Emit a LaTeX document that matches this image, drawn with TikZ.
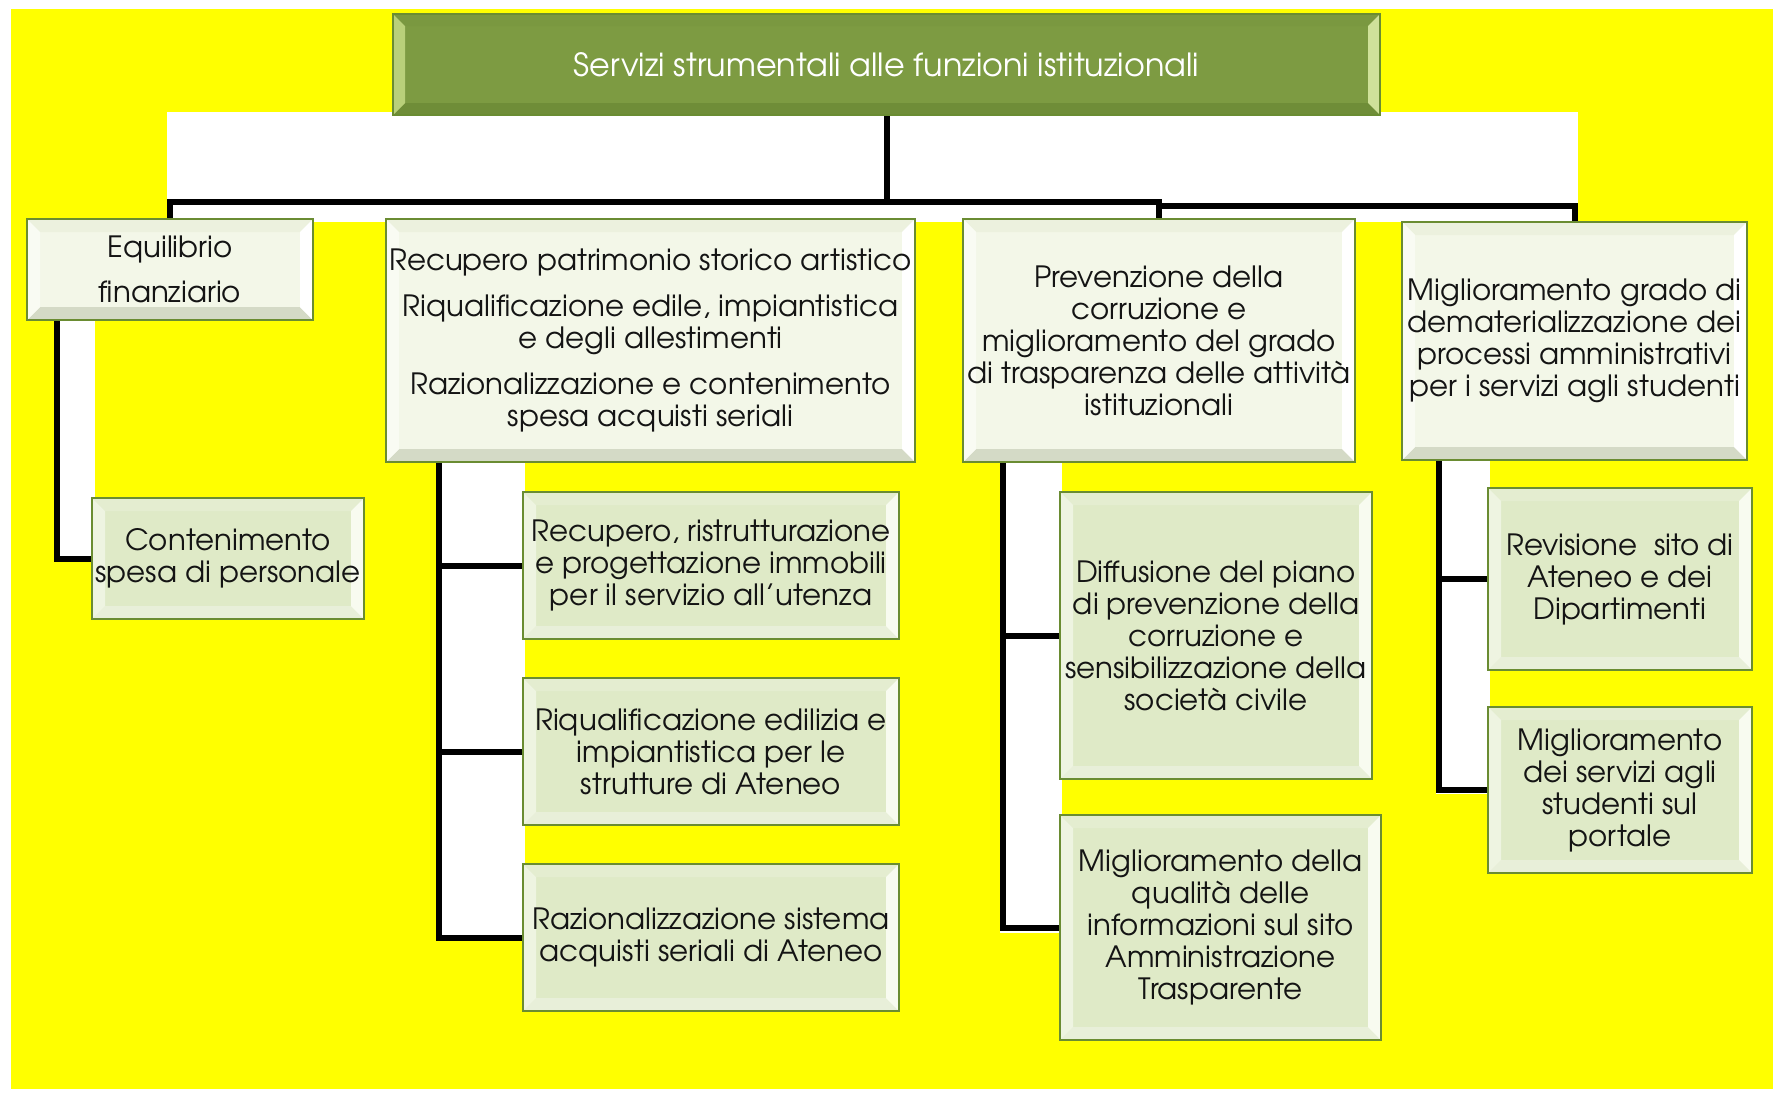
\documentclass[tikz,border=0pt]{standalone}
\usepackage{fontspec}
\setmainfont{TeX Gyre Adventor}
\usepackage{graphicx}
\pgfdeclarelayer{bg}
\pgfdeclarelayer{conn}
\pgfsetlayers{bg,conn,main}
\definecolor{yel}{HTML}{FFFF00}
\definecolor{olive}{HTML}{6A8C32}
\definecolor{txt}{HTML}{141414}
\definecolor{fA}{HTML}{F3F7E8}
\definecolor{tA}{HTML}{ECF1DE}
\definecolor{lA}{HTML}{F9FBF3}
\definecolor{rA}{HTML}{FFFFFF}
\definecolor{bA}{HTML}{D4DAC6}
\definecolor{fB}{HTML}{DFEAC7}
\definecolor{tB}{HTML}{E4EDD0}
\definecolor{lB}{HTML}{EEF4E1}
\definecolor{rB}{HTML}{F8FBF0}
\definecolor{bB}{HTML}{E8EFD9}
\definecolor{fR}{HTML}{7D9B42}
\definecolor{tR}{HTML}{7A9840}
\definecolor{lR}{HTML}{B9D07A}
\definecolor{rR}{HTML}{CFE19A}
\definecolor{bR}{HTML}{6F8D38}
\tikzset{
  bevel/.style n args={6}{fill=#1, path picture={
    \coordinate (bnw) at (path picture bounding box.north west);
    \coordinate (bne) at (path picture bounding box.north east);
    \coordinate (bsw) at (path picture bounding box.south west);
    \coordinate (bse) at (path picture bounding box.south east);
    \coordinate (inw) at ([xshift=#6,yshift=-#6]path picture bounding box.north west);
    \coordinate (ine) at ([xshift=-#6,yshift=-#6]path picture bounding box.north east);
    \coordinate (isw) at ([xshift=#6,yshift=#6]path picture bounding box.south west);
    \coordinate (ise) at ([xshift=-#6,yshift=#6]path picture bounding box.south east);
    \fill[#2] (bnw) -- (bne) -- (ine) -- (inw) -- cycle;
    \fill[#5] (bsw) -- (bse) -- (ise) -- (isw) -- cycle;
    \fill[#3] (bnw) -- (inw) -- (isw) -- (bsw) -- cycle;
    \fill[#4] (bne) -- (ine) -- (ise) -- (bse) -- cycle;
  }},
  boxbase/.style={draw=olive, line width=1.6pt, rectangle, inner sep=0pt, outer sep=0pt,
    align=center, text=txt, font=\fontsize{29.3}{32}\selectfont},
  lvlone/.style={boxbase, bevel={fA}{tA}{lA}{rA}{bA}{13pt}},
  lvltwo/.style={boxbase, bevel={fB}{tB}{lB}{rB}{bB}{13pt}},
  rootbox/.style={boxbase, bevel={fR}{tR}{lR}{rR}{bR}{12pt}, text=white},
  conn/.style={draw=black, line width=6pt, line join=miter},
}
\begin{document}
\begin{tikzpicture}[x=1pt,y=-1pt]
\useasboundingbox (0,0) rectangle (1780,1096);

% nodes
\node[rootbox, minimum width=987pt, minimum height=101pt] (root) at (886.5,64.5)
  {\resizebox{625pt}{24pt}{Servizi strumentali alle funzioni istituzionali}};

\node[lvlone, minimum width=286pt, minimum height=101pt] (eq) at (170,269.5)
  {Equilibrio\\[12.5pt]finanziario};
\node[lvlone, minimum width=529pt, minimum height=243pt] (rec) at (650.5,340.5)
  {Recupero patrimonio storico artistico\\[14pt]Riqualificazione edile, impiantistica\\e degli allestimenti\\[14pt]Razionalizzazione e contenimento\\spesa acquisti seriali};
\node[lvlone, minimum width=392pt, minimum height=243pt] (prev) at (1159,340.5)
  {Prevenzione della\\corruzione e\\miglioramento del grado\\di trasparenza delle attività\\istituzionali};
\node[lvlone, minimum width=345pt, minimum height=238pt] (grado) at (1574.5,341)
  {Miglioramento grado di\\dematerializzazione dei\\processi amministrativi\\per i servizi agli studenti};

\node[lvltwo, minimum width=272pt, minimum height=121pt] (cont) at (228,558.5)
  {Contenimento\\spesa di personale};
\node[lvltwo, minimum width=376pt, minimum height=147pt] (recA) at (711,565.5)
  {Recupero, ristrutturazione\\e progettazione immobili\\per il servizio all’utenza};
\node[lvltwo, minimum width=376pt, minimum height=147pt] (recB) at (711,751.5)
  {Riqualificazione edilizia e\\impiantistica per le\\strutture di Ateneo};
\node[lvltwo, minimum width=376pt, minimum height=147pt] (recC) at (711,937.5)
  {Razionalizzazione sistema\\acquisti seriali di Ateneo};
\node[lvltwo, minimum width=312pt, minimum height=287pt] (diff) at (1216,635.5)
  {Diffusione del piano\\di prevenzione della\\corruzione e\\sensibilizzazione della\\società civile};
\node[lvltwo, minimum width=321pt, minimum height=225pt] (qual) at (1220.5,927.5)
  {Miglioramento della\\qualità delle\\informazioni sul sito\\Amministrazione\\Trasparente};
\node[lvltwo, minimum width=264pt, minimum height=182pt] (rev) at (1620,579)
  {Revisione\ \ sito di\\Ateneo e dei\\Dipartimenti};
\node[lvltwo, minimum width=264pt, minimum height=166pt] (serv) at (1620,790)
  {Miglioramento\\dei servizi agli\\studenti sul\\portale};

% background
\begin{pgfonlayer}{bg}
  \fill[white] (0,0) rectangle (1780,1096);
  \fill[yel] (11,9) rectangle (1773,1089);
  \fill[white] (167,112) rectangle (1578,222);
  \fill[white] (55,320) rectangle (95,561);
  \fill[white] (436,462) rectangle (525,941);
  \fill[white] (1000,462) rectangle (1062,933);
  \fill[white] (1436,459) rectangle (1490,794);
\end{pgfonlayer}

% connectors
\coordinate (barA) at (0,202);
\coordinate (barB) at (0,206);
\coordinate (vA) at (57,0);
\coordinate (vB) at (439,0);
\coordinate (vC) at (1003,0);
\coordinate (vD) at (1439,0);
\begin{pgfonlayer}{conn}
  \draw[conn] (root.south) |- (eq.north |- barA) -- (eq.north);
  \draw[conn] (root.south) |- (prev.north |- barA) -- (prev.north);
  \draw[conn] (root.south) -- (root.south |- barA) -- (prev.north |- barA)
     -- (prev.north |- barB) -- (grado.north |- barB) -- (grado.north);
  \draw[conn] (eq.south -| vA) |- (cont.west);
  \draw[conn] (rec.south -| vB) |- (recA.west);
  \draw[conn] (rec.south -| vB) |- (recB.west);
  \draw[conn] (rec.south -| vB) |- (recC.west);
  \draw[conn] (prev.south -| vC) |- (diff.west);
  \draw[conn] (prev.south -| vC) |- (qual.west);
  \draw[conn] (grado.south -| vD) |- (rev.west);
  \draw[conn] (grado.south -| vD) |- (serv.west);
\end{pgfonlayer}
\end{tikzpicture}
\end{document}
